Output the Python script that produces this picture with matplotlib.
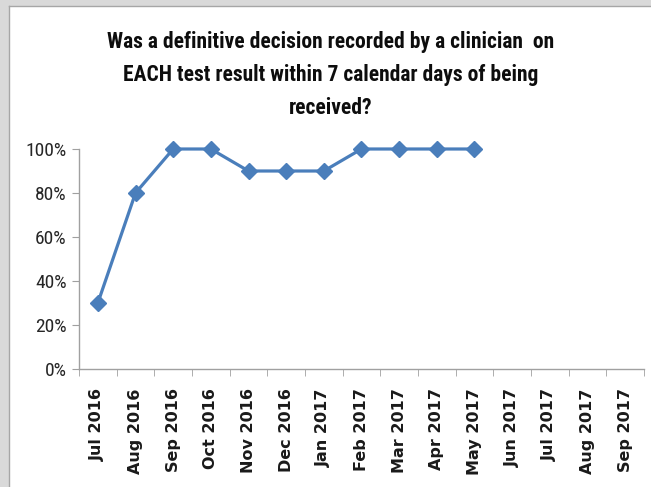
import matplotlib
matplotlib.use('Agg')
import matplotlib.pyplot as plt
from matplotlib import font_manager
from matplotlib.patches import Rectangle
from matplotlib.ticker import FixedLocator, PercentFormatter
import numpy as np

months = ['Jul 2016', 'Aug 2016', 'Sep 2016', 'Oct 2016', 'Nov 2016', 'Dec 2016',
          'Jan 2017', 'Feb 2017', 'Mar 2017', 'Apr 2017', 'May 2017', 'Jun 2017',
          'Jul 2017', 'Aug 2017', 'Sep 2017']
pct = [30, 80, 100, 100, 90, 90, 90, 100, 100, 100, 100,
       np.nan, np.nan, np.nan, np.nan]
title = ('Was a definitive decision recorded by a clinician  on\n'
         'EACH test result within 7 calendar days of being\n'
         'received?')

installed = {f.name for f in font_manager.fontManager.ttflist}
narrow_name = next((n for n in ['Liberation Sans Narrow', 'DejaVu Sans Condensed',
                                'Roboto Condensed', 'Open Sans Condensed']
                    if n in installed), 'Liberation Sans')
narrow = [narrow_name, 'DejaVu Sans']

fig = plt.figure(figsize=(6.51, 4.87), dpi=100)
fig.patch.set_facecolor('white')

W, H = 651, 487
fig.patches.append(Rectangle((0, 0), 9 / W, 1, transform=fig.transFigure,
                             facecolor='#d9d9d9', edgecolor='none'))
fig.patches.append(Rectangle((0, 1 - 6 / H), 1, 6 / H, transform=fig.transFigure,
                             facecolor='#d9d9d9', edgecolor='none'))
fig.lines.append(plt.Line2D([9 / W, 9 / W], [0, 1 - 6 / H], transform=fig.transFigure,
                            color='#a6a6a6', lw=1))
fig.lines.append(plt.Line2D([9 / W, 1], [1 - 6 / H, 1 - 6 / H], transform=fig.transFigure,
                            color='#a6a6a6', lw=1))

ax = fig.add_axes([79 / W, 1 - 369 / H, (644 - 79) / W, (369 - 149) / H])
x = np.arange(len(months))
ax.plot(x, pct, color='#4a7ebb', lw=2.3, marker='D', markersize=8.5,
        markeredgecolor='#4a7ebb', clip_on=False)

ax.set_xlim(-0.5, len(months) - 0.5)
ax.set_ylim(0, 100)
ax.set_yticks([0, 20, 40, 60, 80, 100])
ax.yaxis.set_major_formatter(PercentFormatter(decimals=0))
ax.set_xticks(x)
ax.set_xticklabels(months, rotation=90, fontsize=11.5, fontweight='bold',
                   color='#1a1a1a')
ax.xaxis.set_minor_locator(FixedLocator(np.arange(-0.5, len(months), 1)))
ax.tick_params(axis='x', which='major', length=0, pad=14)
ax.tick_params(axis='x', which='minor', length=5, color='#a0a0a0', direction='out')
ax.tick_params(axis='y', length=5, color='#a0a0a0', direction='out', pad=4)
for lab in ax.get_yticklabels():
    lab.set_family(narrow)
    lab.set_fontsize(14)
    lab.set_color('#262626')

for s in ['top', 'right']:
    ax.spines[s].set_visible(False)
for s in ['left', 'bottom']:
    ax.spines[s].set_color('#a0a0a0')
    ax.spines[s].set_linewidth(1)

fig.text(331 / W, 1 - 31 / H, title, ha='center', va='top', fontsize=15.5,
         fontweight='bold', family=narrow, linespacing=1.65, color='#0d0d0d')

fig.savefig('out.png', dpi=100)
